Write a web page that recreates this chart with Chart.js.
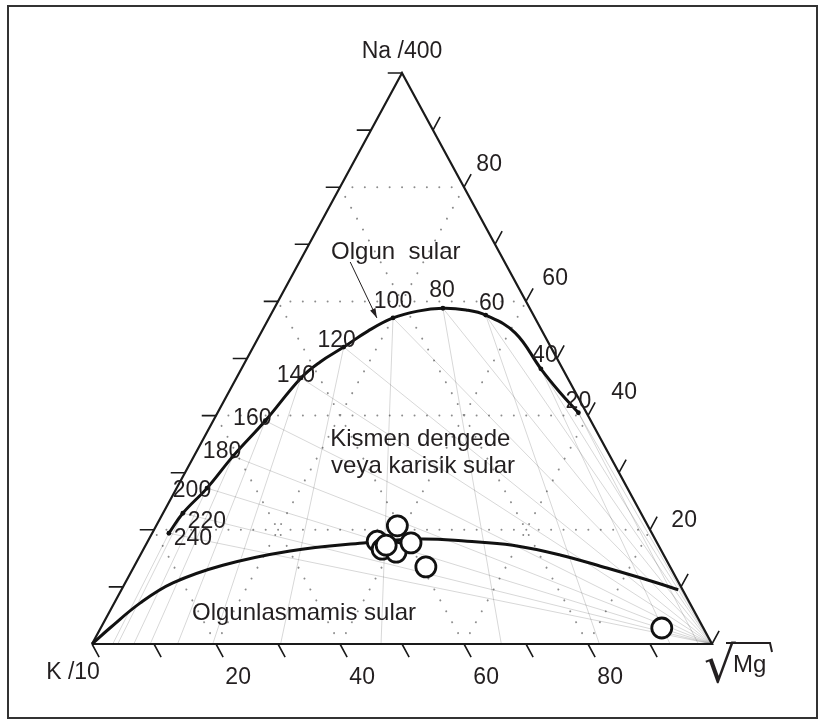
<!DOCTYPE html>
<html>
<head>
<meta charset="utf-8">
<script src="https://cdn.jsdelivr.net/npm/chart.js@4.4.0/dist/chart.umd.min.js"></script>
<style>
  html, body { margin: 0; padding: 0; background: #fff; }
  #wrap { width: 821px; height: 720px; }
</style>
</head>
<body>
<div id="wrap"><canvas id="giggenbach" width="821" height="720"></canvas></div>
<script>
// ---- data (ternary %: Na/400, K/10, sqrt Mg) ----
// temperature marks (degC) on the full equilibrium line
const tempLabels = [240, 220, 200, 180, 160, 140, 120, 100, 80, 60, 40, 20];
const tempNa = [19.4, 22.9, 27.3, 32.9, 39.1, 46.6, 52.0, 57.1, 58.8, 57.6, 48.2, 40.5];
const tempMg = [2.7, 3.2, 4.9, 6.3, 8.4, 10.4, 14.6, 20.0, 27.2, 34.7, 48.3, 58.2];

// full equilibrium line as traced
const eqNa = [19.4, 22.9, 27.3, 32.9, 39.1, 46.6, 49.4, 52.0, 54.8, 57.1, 58.3, 58.8, 58.5, 57.6, 54.5, 48.2, 44.1, 40.5];
const eqMg = [2.7, 3.2, 4.9, 6.3, 8.4, 10.4, 12.1, 14.6, 17.1, 20.0, 23.4, 27.2, 31.1, 34.7, 41.0, 48.3, 53.4, 58.2];

// boundary of immature waters
const immNa = [0, 2.8, 7.2, 10.7, 13.8, 16.3, 17.7, 18.4, 18.0, 17.3, 15.6, 13.3, 10.9, 9.5];
const immMg = [0, 1.5, 4.2, 7.7, 14.2, 23.8, 34.9, 43.7, 51.5, 59.2, 67.7, 76.4, 85.1, 89.8];

// water samples
const sampleNa = [20.7, 18.0, 16.6, 16.1, 17.7, 13.5, 2.8, 17.3];
const sampleMg = [38.9, 37.0, 38.5, 41.0, 42.6, 47.1, 90.5, 38.8];

// axes
const tickSteps = [0, 10, 20, 30, 40, 50, 60, 70, 80, 90];
const gridValues = [20, 40, 60, 80];
const bottomLabels = [20, 40, 60, 80];
const rightLabels = [80, 60, 40, 20];

// ---- placement of annotations (pixel offsets) ----
const tempLabelOffsets = [[24,12],[24,15],[-15,9],[-11,2],[-13,4],[-5,4],[-7,0],[0,-10],[-1,-11],[6,-5],[4,-7],[0,-5]];
const rightLabelOffsets = [[18,-3],[22,-3],[29,-3],[27,10]];
const TICK = 2.3;

// ternary -> plot coordinates
function pt(mg, na) { return { x: mg + na / 2, y: na }; }
const GAP = { x: null, y: null };

// triangle
const edges = [pt(0,0), pt(100,0), pt(0,100), pt(0,0)];

// ticks: bottom (from K), right (from Mg), left (from Na)
const ticks = [];
tickSteps.forEach(v => {
  ticks.push(pt(v, 0), pt(v + TICK, -TICK), GAP);
  ticks.push(pt(100 - v, v), pt(100 - v, v + TICK), GAP);
  ticks.push(pt(0, 100 - v), pt(-TICK, 100 - v), GAP);
});

// dotted 20% grid
const grid = [];
gridValues.forEach(c => {
  grid.push(pt(0, c), pt(100 - c, c), GAP);
  grid.push(pt(c, 0), pt(c, 100 - c), GAP);
  grid.push(pt(100 - c, 0), pt(0, 100 - c), GAP);
});

// isotherm lines through the temperature marks
const iso = [];
tempNa.forEach((na, i) => {
  const mg = tempMg[i], k = 100 - na - mg;
  iso.push(pt(100, 0), pt(mg, na), GAP);
  iso.push(pt(mg, na), pt(mg / (mg + k) * 100, 0), GAP);
});

const tempPts = tempNa.map((na, i) => pt(tempMg[i], na));
const eqLine = eqNa.map((na, i) => pt(eqMg[i], na));
const immLine = immNa.map((na, i) => pt(immMg[i], na));
const samples = sampleNa.map((na, i) => pt(sampleMg[i], na));

const FONT = '"Liberation Sans", Arial, sans-serif';
const INK = '#231f20';

const textPlugin = {
  id: 'texts',
  beforeDraw(chart) {
    const c = chart.ctx;
    c.save();
    c.fillStyle = '#fff';
    c.fillRect(0, 0, chart.width, chart.height);
    c.strokeStyle = '#333';
    c.lineWidth = 2;
    c.strokeRect(8, 6, 809, 712);
    c.restore();
  },
  afterDatasetsDraw(chart) {
    const c = chart.ctx, sx = chart.scales.x, sy = chart.scales.y;
    const px = p => [sx.getPixelForValue(p.x), sy.getPixelForValue(p.y)];
    const put = (txt, p, dx, dy, size) => {
      const [x, y] = px(p);
      c.font = size + 'px ' + FONT;
      c.fillText(txt, x + dx, y + dy);
    };
    c.save();
    c.fillStyle = INK;
    c.textAlign = 'center';
    c.textBaseline = 'alphabetic';

    // vertex names
    put('Na /400', pt(0, 100), 0, -15, 23);
    put('K /10', pt(0, 0), -19, 35, 23);

    // axis numbers
    bottomLabels.forEach(v => put(String(v), pt(v + TICK, -TICK), 15, 27, 23));
    rightLabels.forEach((v, i) => {
      const o = rightLabelOffsets[i];
      put(String(v), pt(100 - v, v + TICK), o[0], o[1], 23);
    });

    // temperatures along the full equilibrium line
    tempLabels.forEach((t, i) => {
      const o = tempLabelOffsets[i];
      put(String(t), tempPts[i], o[0], o[1], 23);
    });

    // field names
    put('Olgun  sular', pt(15.3, 67.4), 0, 0, 24);
    put('Kismen dengede', pt(35.6, 34.7), 0, 0, 24);
    put('veya karisik sular', pt(38.4, 30.0), 0, 0, 24);
    put('Olgunlasmamis sular', pt(32.1, 4.2), 0, 0, 24);

    // arrow to the equilibrium line
    const [ax, ay] = px(pt(8.2, 66.9));
    const [bx, by] = px(pt(17.4, 57.1));
    c.strokeStyle = INK;
    c.lineWidth = 1;
    c.beginPath(); c.moveTo(ax, ay); c.lineTo(bx, by); c.stroke();
    const ang = Math.atan2(by - ay, bx - ax);
    c.beginPath();
    c.moveTo(bx, by);
    c.lineTo(bx - 10 * Math.cos(ang - 0.3), by - 10 * Math.sin(ang - 0.3));
    c.lineTo(bx - 10 * Math.cos(ang + 0.3), by - 10 * Math.sin(ang + 0.3));
    c.closePath(); c.fill();

    // sqrt Mg
    const [mx, my] = px(pt(100, 0));
    c.textAlign = 'left';
    c.font = '50px "DejaVu Sans", ' + FONT;
    c.fillText('\u221A', mx - 8, my + 38);
    c.font = '24px ' + FONT;
    c.fillText('Mg', mx + 21, my + 28);
    c.lineWidth = 2;
    c.beginPath();
    c.moveTo(mx + 14, my - 1); c.lineTo(mx + 58, my - 1); c.lineTo(mx + 60, my + 8);
    c.stroke();
    c.restore();
  }
};

function seg(data, color, width, extra) {
  return Object.assign({
    data, showLine: true, borderColor: color, borderWidth: width,
    pointRadius: 0, spanGaps: false, clip: false, fill: false
  }, extra || {});
}

new Chart(document.getElementById('giggenbach').getContext('2d'), {
  type: 'scatter',
  data: {
    datasets: [
      Object.assign(seg(samples, '#111', 2.8), {
        showLine: false, pointRadius: 10, pointBackgroundColor: '#fff',
        pointBorderColor: '#111', pointBorderWidth: 2.8, order: 1
      }),
      Object.assign(seg(tempPts, '#111', 0), {
        showLine: false, pointRadius: 2.4, pointBackgroundColor: '#111',
        pointBorderWidth: 0, order: 2
      }),
      seg(eqLine, '#111', 3, { type: 'line', tension: 0.4, borderJoinStyle: 'round', order: 3 }),
      seg(immLine, '#111', 3, { type: 'line', tension: 0.4, borderJoinStyle: 'round', order: 3 }),
      seg(edges, '#1a1a1a', 2.2, { order: 4 }),
      seg(ticks, '#1a1a1a', 1.6, { order: 4 }),
      seg(iso, 'rgba(0,0,0,0.2)', 0.8, { order: 8 }),
      seg(grid, '#8c8c8c', 2, { borderDash: [0.01, 12.4], borderCapStyle: 'round', order: 9 })
    ]
  },
  options: {
    responsive: false,
    animation: false,
    layout: { padding: { left: 92, right: 109, top: 73, bottom: 76 } },
    scales: {
      x: { type: 'linear', min: 0, max: 100, display: false },
      y: { type: 'linear', min: 0, max: 100, display: false }
    },
    plugins: { legend: { display: false }, tooltip: { enabled: false } },
    events: []
  },
  plugins: [textPlugin]
});
</script>
</body>
</html>
